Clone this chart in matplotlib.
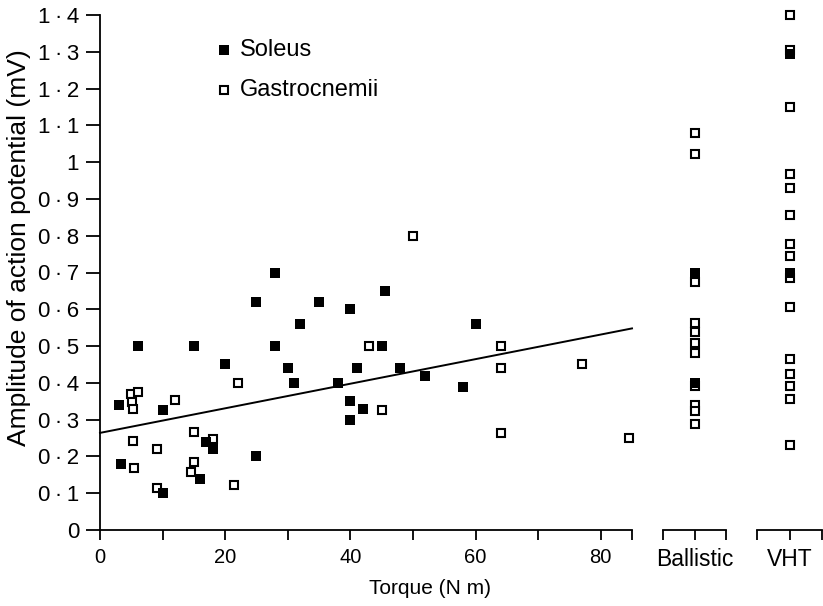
import numpy as np
import matplotlib
matplotlib.use("Agg")
import matplotlib.pyplot as plt

plt.rcParams['font.family'] = ['Liberation Sans', 'DejaVu Sans']

# torque (N m) vs amplitude (mV)
soleus_x = [28, 25, 32, 6, 15, 28, 20, 30, 31, 3, 10, 17, 18, 3.4, 25, 16, 10,
            45.5, 35, 40, 60, 45, 41, 48, 52, 38, 58, 40, 42, 40]
soleus_y = [0.70, 0.62, 0.56, 0.50, 0.50, 0.50, 0.45, 0.44, 0.40, 0.34, 0.325, 0.24,
            0.22, 0.18, 0.20, 0.14, 0.10,
            0.65, 0.62, 0.60, 0.56, 0.50, 0.44, 0.44, 0.42, 0.40, 0.39, 0.35, 0.33, 0.30]
gastro_x = [5, 6, 5.1, 5.3, 12, 22, 5.3, 9.1, 15, 18, 5.5, 15, 14.5, 9.1, 21.4,
            50, 43, 64, 64, 77, 45, 64, 84.5]
gastro_y = [0.37, 0.374, 0.349, 0.328, 0.353, 0.40, 0.243, 0.22, 0.266, 0.248, 0.168,
            0.186, 0.159, 0.114, 0.123,
            0.80, 0.50, 0.50, 0.44, 0.45, 0.325, 0.265, 0.25]

# regression line end points
fit_x = [0, 85]
fit_y = [0.264, 0.548]

ballistic_sol = [0.70, 0.40]
ballistic_gas = [1.078, 1.023, 0.673, 0.564, 0.537, 0.508, 0.48, 0.391, 0.339, 0.323, 0.287]
vht_sol = [1.295, 0.70]
vht_gas = [1.399, 1.305, 1.151, 0.969, 0.93, 0.855, 0.778, 0.744, 0.684, 0.605,
           0.466, 0.423, 0.391, 0.357, 0.232]

yticks = np.round(np.arange(0, 1.41, 0.1), 1)
ylabels = ['0' if v == 0 else ('1' if v == 1 else
           ('%.1f' % v).replace('.', '\u2009\u00b7\u2009')) for v in yticks]
xticks = [0, 10, 20, 30, 40, 50, 60, 70, 80]
xlabels = ['0', '', '20', '', '40', '', '60', '', '80']

W, H = 823, 606
fig = plt.figure(figsize=(W / 100, H / 100), dpi=100)

def box(x0, x1, y0=15, y1=530):
    return [x0 / W, 1 - y1 / H, (x1 - x0) / W, (y1 - y0) / H]

ax = fig.add_axes(box(100, 632))
axb = fig.add_axes(box(663, 726))
axv = fig.add_axes(box(757, 822))

sol_kw = dict(marker='s', ls='none', color='black', ms=7, mew=0)
gas_kw = dict(marker='s', ls='none', mfc='white', mec='black', ms=5.3, mew=1.5)

ax.plot(gastro_x, gastro_y, **gas_kw)
ax.plot(soleus_x, soleus_y, **sol_kw)
ax.plot(fit_x, fit_y, color='black', lw=1.4)

ax.set_xlim(0, 85)
ax.set_ylim(0, 1.4)
ax.set_xticks(xticks + [85])
ax.set_xticklabels(xlabels + [''])
ax.set_yticks(yticks)
ax.set_yticklabels(ylabels)
for s in ['top', 'right']:
    ax.spines[s].set_visible(False)

for a, sol, gas, name in [(axb, ballistic_sol, ballistic_gas, 'Ballistic'),
                          (axv, vht_sol, vht_gas, 'VHT')]:
    a.plot([0] * len(gas), gas, **gas_kw)
    a.plot([0] * len(sol), sol, **sol_kw)
    a.set_xlim(-1, 1)
    a.set_ylim(0, 1.4)
    a.set_xticks([-1, 0, 1])
    a.set_xticklabels(['', name, ''])
    a.set_yticks([])
    for s in ['top', 'right', 'left']:
        a.spines[s].set_visible(False)

for a in [ax, axb, axv]:
    for s in a.spines.values():
        s.set_linewidth(1.3)
    a.tick_params(direction='out', length=7, width=1.3, labelsize=14.5, pad=6,
                  colors='black')
    a.patch.set_alpha(0)
    for ln in a.lines:
        ln.set_clip_on(False)
ax.tick_params(axis='y', length=10, labelsize=16, pad=5)
axb.tick_params(axis='x', labelsize=16.5)
axv.tick_params(axis='x', labelsize=16.5)

# legend drawn by hand
ax.plot([19.8], [1.305], **sol_kw)
ax.plot([19.8], [1.195], **gas_kw)
ax.text(22.3, 1.305, 'Soleus', fontsize=17, va='center', ha='left')
ax.text(22.3, 1.195, 'Gastrocnemii', fontsize=17, va='center', ha='left')

fig.text(430 / W, 1 - 588 / H, 'Torque (N m)', fontsize=15, ha='center', va='center')
fig.text(19 / W, 1 - 248 / H, 'Amplitude of action potential (mV)', fontsize=19,
         ha='center', va='center', rotation=90)

fig.savefig('out.png', dpi=100)
